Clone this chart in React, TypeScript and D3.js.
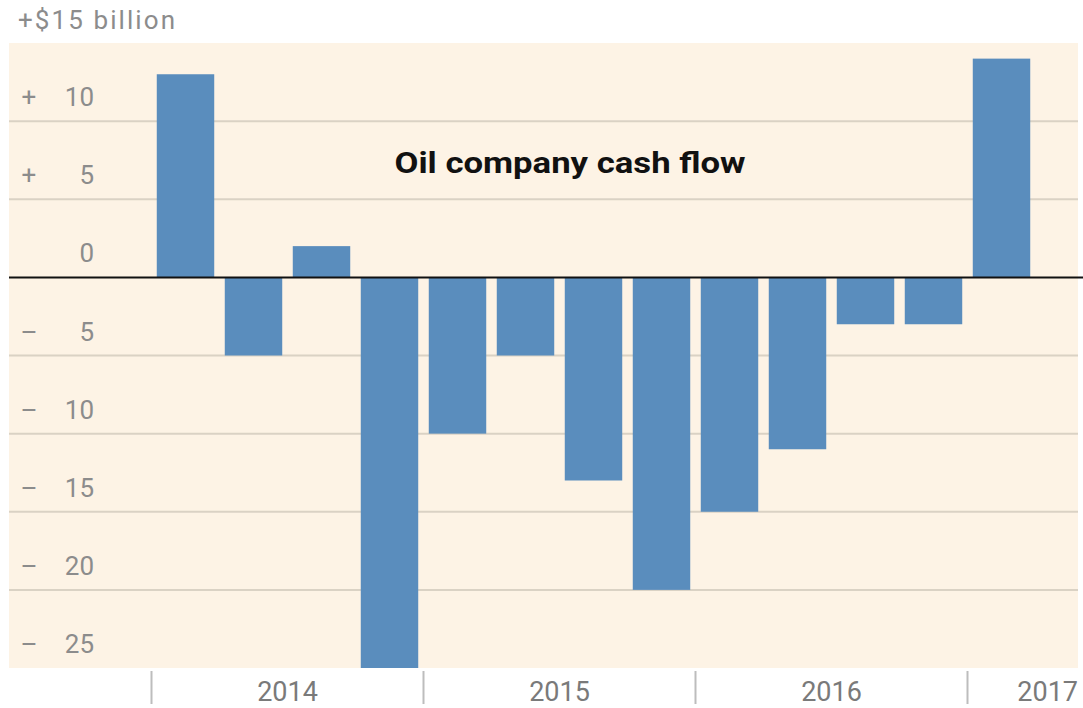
import React from "react";
import * as d3 from "d3";

const quarters = [
  "2014 Q1", "2014 Q2", "2014 Q3", "2014 Q4",
  "2015 Q1", "2015 Q2", "2015 Q3", "2015 Q4",
  "2016 Q1", "2016 Q2", "2016 Q3", "2016 Q4",
  "2017 Q1",
];
const cashFlow = [13, -5, 2, -25, -10, -5, -13, -20, -15, -11, -3, -3, 14];
const years = ["2014", "2015", "2016", "2017"];
const yTicks = [10, 5, 0, -5, -10, -15, -20, -25];
const title = "Oil company cash flow";
const topLabel = "+$15 billion";

const W = 1083;
const H = 708;
const plotLeft = 9;
const plotRight = 1078;
const plotTop = 43;
const plotBottom = 668;

export default function App() {
  const y = d3.scaleLinear().domain([-25, 15]).range([plotBottom, plotTop]);
  const x = d3
    .scaleBand<string>()
    .domain(quarters)
    .range([151.5, 151.5 + 68 * quarters.length])
    .paddingInner(0.155)
    .paddingOuter(0.0775);
  const step = x.step();
  const x0 = x.range()[0];
  const labelFont = "Roboto, 'Liberation Sans', sans-serif";

  return (
    <svg
      width={W}
      height={H}
      style={{ position: "absolute", left: 0, top: 0, background: "#fff" }}
    >
      <rect
        x={plotLeft}
        y={plotTop}
        width={plotRight - plotLeft}
        height={plotBottom - plotTop}
        fill="#fdf3e5"
      />
      {yTicks
        .filter((t) => t !== 0 && t !== -25)
        .map((t) => (
          <line
            key={"g" + t}
            x1={plotLeft}
            x2={plotRight}
            y1={y(t)}
            y2={y(t)}
            stroke="#dad2c4"
            strokeWidth={2}
          />
        ))}
      {quarters.map((q, i) => {
        const v = cashFlow[i];
        return (
          <rect
            key={q}
            x={x(q)}
            width={x.bandwidth()}
            y={Math.min(y(v), y(0))}
            height={Math.abs(y(v) - y(0))}
            fill="#5a8dbd"
          />
        );
      })}
      <line
        x1={plotLeft}
        x2={W}
        y1={y(0)}
        y2={y(0)}
        stroke="#111"
        strokeWidth={2}
      />
      {yTicks.map((t) => (
        <g key={"l" + t} fontFamily={labelFont} fontSize={26} fill="#8c8c8c">
          {t !== 0 && (
            <text x={29} y={y(t) - 15} textAnchor="middle">
              {t > 0 ? "+" : "\u2013"}
            </text>
          )}
          <text x={94} y={y(t) - 15} textAnchor="end">
            {Math.abs(t)}
          </text>
        </g>
      ))}
      <text
        x={18}
        y={y(15) - 14}
        fontFamily={labelFont}
        fontSize={26}
        fill="#8c8c8c"
        textLength={157}
        lengthAdjust="spacing"
      >
        {topLabel}
      </text>
      <text
        x={570}
        y={173}
        textAnchor="middle"
        fontFamily={labelFont}
        fontWeight="bold"
        fontSize={30}
        fill="#111"
        textLength={351}
        lengthAdjust="spacingAndGlyphs"
      >
        {title}
      </text>
      {years.map((yr, i) => {
        const sx = x0 + i * 4 * step;
        const isLast = i === years.length - 1;
        const cx = isLast ? plotRight : sx + 2 * step;
        return (
          <g key={yr}>
            <line
              x1={sx}
              x2={sx}
              y1={671}
              y2={704}
              stroke="#bdbdbd"
              strokeWidth={2}
            />
            <text
              x={cx}
              y={701}
              textAnchor={isLast ? "end" : "middle"}
              fontFamily={labelFont}
              fontSize={27}
              fill="#7a7a7a"
            >
              {yr}
            </text>
          </g>
        );
      })}
    </svg>
  );
}
